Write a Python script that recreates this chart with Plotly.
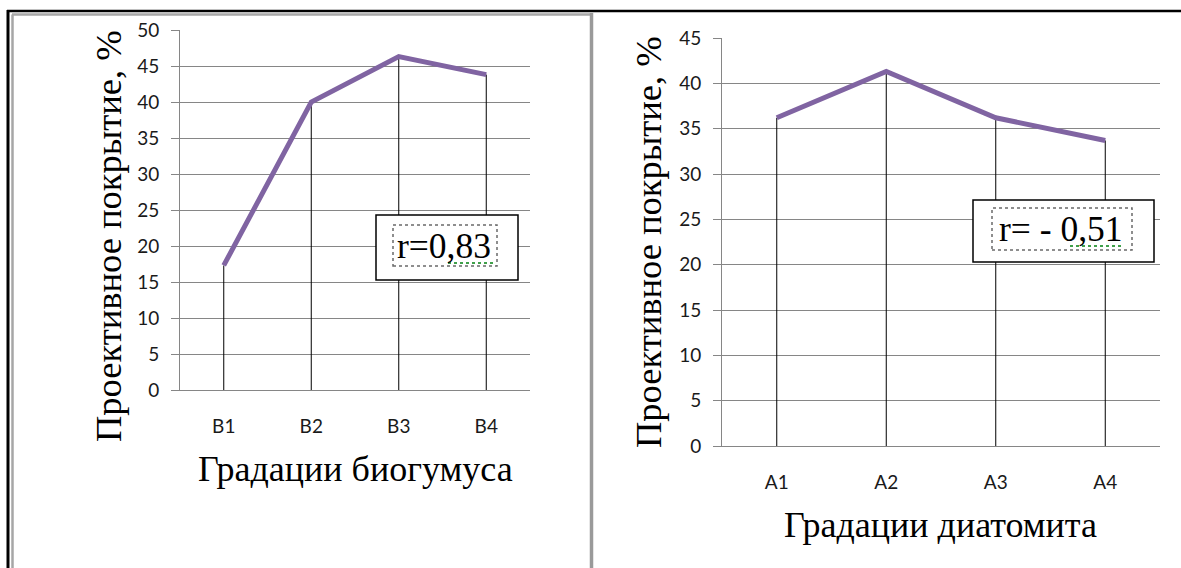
import plotly.graph_objects as go

W, H = 1181, 568

# Projective cover (%) by vermicompost and diatomite gradations
bio_cats = ["B1", "B2", "B3", "B4"]
bio_vals = [17.3, 40.0, 46.3, 43.8]
dia_cats = ["A1", "A2", "A3", "A4"]
dia_vals = [36.2, 41.3, 36.2, 33.7]
bio_r = "r=0,83"
dia_r = "r= - 0,51"
y_title = "Проективное покрытие, %"
bio_x_title = "Градации биогумуса"
dia_x_title = "Градации диатомита"

LINE = "#8064A2"
GRID = "#868686"
SERIF = "Liberation Serif"
SANS = "Lato"


def px(x):
    return x / W


def py(y):
    return 1 - y / H


def drop_lines(cats, vals):
    xs, ys = [], []
    for c, v in zip(cats, vals):
        xs += [c, c, None]
        ys += [0, v, None]
    return xs, ys


fig = go.Figure()

for cats, vals, xa, ya in [(bio_cats, bio_vals, "x", "y"), (dia_cats, dia_vals, "x2", "y2")]:
    dx, dy = drop_lines(cats, vals)
    fig.add_trace(go.Scatter(x=dx, y=dy, mode="lines", xaxis=xa, yaxis=ya,
                             line=dict(color="black", width=1), hoverinfo="skip",
                             showlegend=False))
    fig.add_trace(go.Scatter(x=cats, y=vals, mode="lines", xaxis=xa, yaxis=ya,
                             line=dict(color=LINE, width=5), showlegend=False))

xcommon = dict(type="category", range=[-0.5, 3.5], showgrid=False, showline=True,
               linecolor=GRID, linewidth=1, ticks="", zeroline=False, automargin=False,
               tickfont=dict(family=SANS, size=19, color="#1a1a1a"),
               ticklabelstandoff=19)
ycommon = dict(showgrid=True, gridcolor=GRID, gridwidth=1, showline=True,
               linecolor=GRID, linewidth=1, ticks="outside", ticklen=8,
               tickcolor=GRID, zeroline=False, dtick=5, automargin=False,
               tickfont=dict(family=SANS, size=19, color="#1a1a1a"),
               ticklabelstandoff=8)

fig.update_layout(
    width=W, height=H,
    margin=dict(l=0, r=0, t=0, b=0, pad=0, autoexpand=False),
    paper_bgcolor="white", plot_bgcolor="white",
    xaxis=dict(domain=[px(180), px(530)], anchor="y",
               categoryorder="array", categoryarray=bio_cats, **xcommon),
    yaxis=dict(domain=[py(390), py(30)], anchor="x", range=[0, 50], **ycommon),
    xaxis2=dict(domain=[px(722), px(1160)], anchor="y2",
                categoryorder="array", categoryarray=dia_cats, **xcommon),
    yaxis2=dict(domain=[py(446), py(38)], anchor="x2", range=[0, 45], **ycommon),
)

shapes = []
# page frame
shapes.append(dict(type="line", xref="paper", yref="paper", x0=px(7), x1=px(W),
                   y0=py(11), y1=py(11), line=dict(color="black", width=2.5)))
shapes.append(dict(type="line", xref="paper", yref="paper", x0=px(8), x1=px(8),
                   y0=py(10), y1=py(H), line=dict(color="black", width=3)))
shapes.append(dict(type="line", xref="paper", yref="paper", x0=px(12.5), x1=px(12.5),
                   y0=py(14.5), y1=py(H), line=dict(color="#a6a6a6", width=2.5)))
shapes.append(dict(type="line", xref="paper", yref="paper", x0=px(12), x1=px(592),
                   y0=py(14.5), y1=py(14.5), line=dict(color="#a6a6a6", width=2.5)))
shapes.append(dict(type="line", xref="paper", yref="paper", x0=px(591.5), x1=px(591.5),
                   y0=py(13), y1=py(H), line=dict(color="#9a9a9a", width=3.5)))

annotations = []


def r_box(x0, x1, y0, y1, ix0, ix1, iy0, iy1, sq0, sq1, sqy, text, tx, ty):
    shapes.append(dict(type="rect", xref="paper", yref="paper", layer="above",
                       x0=px(x0), x1=px(x1), y0=py(y1), y1=py(y0),
                       fillcolor="white", line=dict(color="black", width=1.5)))
    shapes.append(dict(type="rect", xref="paper", yref="paper", layer="above",
                       x0=px(ix0), x1=px(ix1), y0=py(iy1), y1=py(iy0),
                       line=dict(color="#6a6a6a", width=1.5, dash="dot")))
    shapes.append(dict(type="line", xref="paper", yref="paper", layer="above",
                       x0=px(sq0), x1=px(sq1), y0=py(sqy), y1=py(sqy),
                       line=dict(color="#3fa04a", width=2, dash="dot")))
    annotations.append(dict(xref="paper", yref="paper", x=px(tx), y=py(ty),
                            text=text, showarrow=False, xanchor="center", yanchor="middle",
                            font=dict(family=SERIF, size=35.5, color="black")))


r_box(376, 518, 215, 280, 393, 497, 225, 266, 448, 493, 263, bio_r, 444, 246)
r_box(973, 1154, 200, 262, 992, 1132, 208, 250, 1070, 1123, 246, dia_r, 1061, 229)

# axis titles
annotations.append(dict(xref="paper", yref="paper", x=px(108), y=py(236), text=y_title,
                        textangle=-90, showarrow=False, xanchor="center", yanchor="middle",
                        font=dict(family=SERIF, size=36.5, color="black")))
annotations.append(dict(xref="paper", yref="paper", x=px(648), y=py(242), text=y_title,
                        textangle=-90, showarrow=False, xanchor="center", yanchor="middle",
                        font=dict(family=SERIF, size=36.5, color="black")))
annotations.append(dict(xref="paper", yref="paper", x=px(355), y=py(469), text=bio_x_title,
                        showarrow=False, xanchor="center", yanchor="middle",
                        font=dict(family=SERIF, size=36, color="black")))
annotations.append(dict(xref="paper", yref="paper", x=px(940), y=py(525), text=dia_x_title,
                        showarrow=False, xanchor="center", yanchor="middle",
                        font=dict(family=SERIF, size=36, color="black")))

fig.update_layout(shapes=shapes, annotations=annotations)
fig.write_html("out.html")
